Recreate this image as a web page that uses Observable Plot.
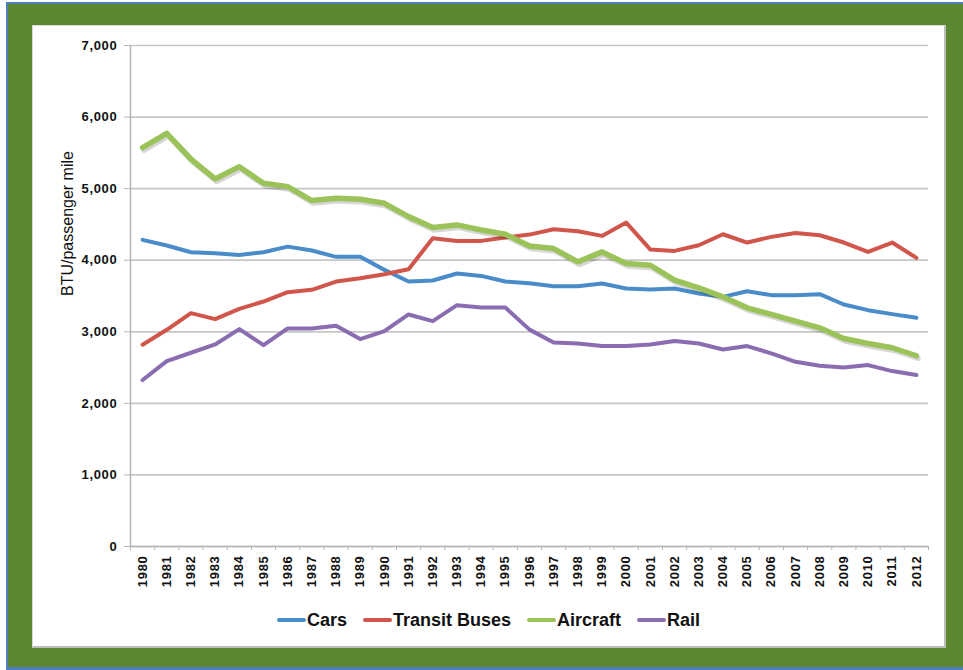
<!DOCTYPE html>
<html>
<head>
<meta charset="utf-8">
<script src="https://cdn.jsdelivr.net/npm/d3@7"></script>
<script src="https://cdn.jsdelivr.net/npm/@observablehq/plot@0.6"></script>
<style>
  html, body { margin: 0; padding: 0; background: #ffffff; width: 963px; height: 670px; overflow: hidden; }
  #outer { position: absolute; left: 6px; top: 2px; width: 957px; height: 668px; box-sizing: border-box;
           background: #5b8731; border-left: 2px solid #4f7fbf; border-top: 2px solid #4f7fbf; border-bottom: 3px solid #4f7fbf; }
  #panel { position: absolute; left: 32px; top: 25px; width: 911px; height: 620px; background: #fff;
           border-left: 1px solid #d8d8d8; border-top: 1px solid #d8d8d8; border-right: 2px solid #bdbdbd; border-bottom: 2px solid #bdbdbd; }
  #chart { position: absolute; left: 0; top: 0; }
  #chart svg { font-family: "Liberation Sans", Arial, sans-serif; }
  #chart g[aria-label="x-axis tick label"] text, #chart g[aria-label="y-axis tick label"] text { font-weight: bold; letter-spacing: 0.7px; }
  #legend { position: absolute; left: 0; top: 583px; width: 911px; height: 22px; display: flex; justify-content: center; align-items: center;
            font-family: "Liberation Sans", Arial, sans-serif; font-size: 18px; font-weight: bold; color: #111; }
  .item { display: flex; align-items: center; margin: 0 8px; }
  .sw { width: 29px; height: 4px; border-radius: 2px; margin-right: 1px; }
</style>
</head>
<body>
<div id="outer"></div>
<div id="panel">
  <div id="chart"></div>
  <div id="legend"></div>
</div>
<script>
const years = [1980,1981,1982,1983,1984,1985,1986,1987,1988,1989,1990,1991,1992,1993,1994,1995,1996,1997,1998,1999,2000,2001,2002,2003,2004,2005,2006,2007,2008,2009,2010,2011,2012];
const cars = [4284,4205,4112,4098,4074,4112,4190,4135,4047,4047,3865,3702,3716,3814,3781,3702,3679,3637,3637,3674,3605,3591,3605,3535,3488,3567,3512,3512,3526,3381,3302,3247,3195];
const transitBuses = [2819,3028,3260,3177,3321,3423,3553,3586,3702,3749,3805,3874,4307,4270,4270,4316,4358,4433,4405,4340,4526,4149,4130,4209,4363,4247,4326,4381,4349,4247,4116,4247,4033];
const aircraft = [5572,5772,5414,5135,5307,5074,5028,4833,4865,4851,4795,4609,4456,4493,4423,4363,4200,4163,3977,4116,3953,3930,3721,3614,3488,3335,3242,3149,3056,2907,2837,2777,2665];
const rail = [2326,2591,2707,2823,3037,2814,3047,3047,3084,2898,3009,3242,3149,3372,3340,3340,3030,2851,2837,2800,2800,2823,2870,2837,2753,2800,2698,2581,2526,2502,2535,2451,2395];
const seriesNames = ["Cars", "Transit Buses", "Aircraft", "Rail"];
const seriesColors = ["#4a8cca", "#d0564c", "#9cc25a", "#8a6cb0"];
const yTicks = [0,1000,2000,3000,4000,5000,6000,7000];
const yLabel = "BTU/passenger mile";

const seriesValues = [cars, transitBuses, aircraft, rail];
const rows = seriesNames.map((name, i) => years.map((yr, j) => ({series: name, year: yr, value: seriesValues[i][j]})));
const boundaries = years.map(y => y - 0.5).concat([years[years.length - 1] + 0.5]);

const lineMarks = [];
rows.forEach((data, i) => {
  const isAir = seriesNames[i] === "Aircraft";
  if (isAir) {
    lineMarks.push(Plot.line(data, {x: "year", y: "value", stroke: "#000", strokeOpacity: 0.16, strokeWidth: 5.5, dx: 1.5, dy: 2.5, strokeLinejoin: "round", strokeLinecap: "round"}));
  }
  lineMarks.push(Plot.line(data, {x: "year", y: "value", stroke: seriesColors[i], strokeWidth: isAir ? 5.5 : 4, strokeLinejoin: "round", strokeLinecap: "round"}));
});

const chart = Plot.plot({
  width: 911,
  height: 574,
  marginLeft: 97,
  marginRight: 16,
  marginTop: 19,
  marginBottom: 54,
  style: {fontFamily: "'Liberation Sans', Arial, sans-serif", fontSize: "13px", color: "#111", background: "transparent"},
  x: {domain: [years[0] - 0.5, years[years.length - 1] + 0.5]},
  y: {domain: [0, 7000]},
  marks: [
    Plot.gridY(yTicks, {stroke: "#c6c6c6", strokeOpacity: 1, strokeWidth: 1.7}),
    Plot.axisY(yTicks, {tickSize: 6, tickPadding: 7, tickFormat: d3.format(","), stroke: "#b5b5b5", fill: "#111", label: null, fontSize: 13}),
    Plot.axisX(years, {tickSize: 0, tickPadding: 9, tickRotate: -90, tickFormat: d => String(d), fill: "#111", label: null, fontSize: 13}),
    Plot.axisX(boundaries, {tickSize: 4, tickFormat: () => "", stroke: "#b5b5b5", label: null}),
    Plot.ruleX([years[0] - 0.5], {stroke: "#b5b5b5", strokeWidth: 1.5}),
    Plot.ruleY([0], {stroke: "#b5b5b5", strokeWidth: 1.5}),
    Plot.text([yLabel], {frameAnchor: "left", dx: -63, rotate: -90, fontSize: 16, fill: "#111", text: d => d}),
    ...lineMarks
  ]
});
document.getElementById("chart").appendChild(chart);

const legend = document.getElementById("legend");
seriesNames.forEach((name, i) => {
  const item = document.createElement("div");
  item.className = "item";
  const sw = document.createElement("span");
  sw.className = "sw";
  sw.style.background = seriesColors[i];
  const t = document.createElement("span");
  t.textContent = name;
  item.appendChild(sw);
  item.appendChild(t);
  legend.appendChild(item);
});
</script>
</body>
</html>
